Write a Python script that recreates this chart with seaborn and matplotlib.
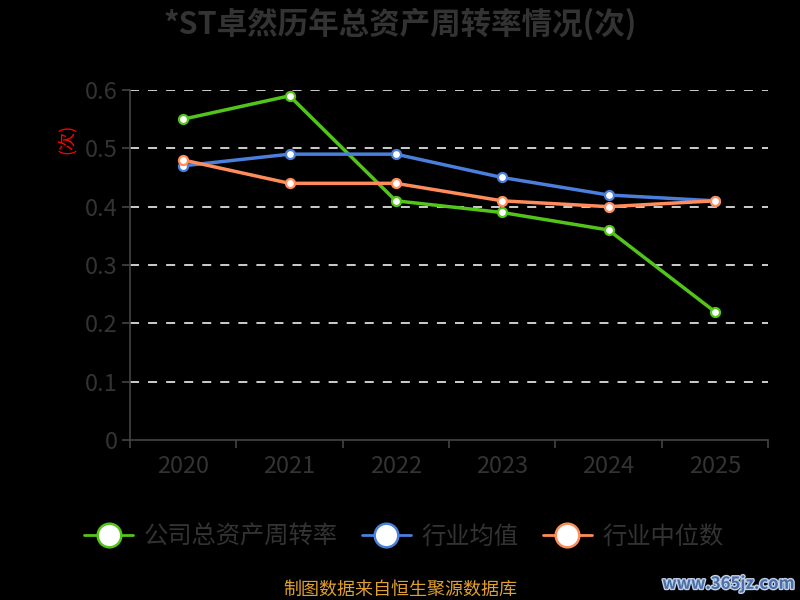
import matplotlib
matplotlib.use('Agg')
import matplotlib.pyplot as plt
import matplotlib.patheffects as pe
import seaborn as sns
import pandas as pd

# --- Data ---
years = ['2020', '2021', '2022', '2023', '2024', '2025']
company = [0.55, 0.59, 0.41, 0.39, 0.36, 0.22]
industry_avg = [0.47, 0.49, 0.49, 0.45, 0.42, 0.41]
industry_median = [0.48, 0.44, 0.44, 0.41, 0.40, 0.41]
series_names = ['公司总资产周转率', '行业均值', '行业中位数']
y_ticks = [0, 0.1, 0.2, 0.3, 0.4, 0.5, 0.6]

colors = ['#52c41a', '#4a7fdc', '#ff8c5a']

# --- Styling ---
sns.set_theme(style="dark")
plt.rcParams['font.family'] = ['Noto Sans CJK SC', 'DejaVu Sans']
plt.rcParams['axes.unicode_minus'] = False

df = pd.DataFrame({'year': years * 3,
                   'value': company + industry_avg + industry_median,
                   'series': [series_names[0]] * 6 + [series_names[1]] * 6 + [series_names[2]] * 6})
df['x'] = list(range(len(years))) * 3

fig = plt.figure(figsize=(8, 6), dpi=100, facecolor='black')
ax = fig.add_axes([0.1625, 0.2667, 0.7975, 0.5833])
ax.set_facecolor('black')

for y in y_ticks[1:]:
    ax.axhline(y, color='#dddddd', lw=1.3, ls=(0, (5, 5)), zorder=1)

sns.lineplot(data=df, x='x', y='value', hue='series', palette=colors, marker='o',
             markersize=6.5, markerfacecolor='white', markeredgewidth=1.6, lw=2.5,
             ax=ax, legend=False, zorder=3)
for line, c in zip(ax.get_lines()[-3:], colors):
    line.set_markeredgecolor(c)

ax.set_xlim(-0.5, len(years) - 0.5)
ax.set_ylim(0, 0.6)
ax.set_yticks(y_ticks)
ax.set_yticklabels(['0', '0.1', '0.2', '0.3', '0.4', '0.5', '0.6'])
ax.set_xticks(range(len(years)))
ax.set_xticklabels(years)
ax.set_xticks([i - 0.5 for i in range(len(years) + 1)], minor=True)
ax.tick_params(axis='x', which='major', length=0, pad=11, labelsize=17, labelcolor='#333333')
ax.tick_params(axis='x', which='minor', length=6, color='#444444', width=1.2, bottom=True)
ax.tick_params(axis='y', which='major', length=6, color='#444444', width=1.2, left=True,
               labelsize=17, labelcolor='#333333', pad=3)
ax.grid(False)
for side in ['top', 'right']:
    ax.spines[side].set_visible(False)
for side in ['left', 'bottom']:
    ax.spines[side].set_color('#444444')
    ax.spines[side].set_linewidth(1.2)
ax.set_xlabel('')
ax.set_ylabel('(次)', color='red', fontsize=13, rotation=90)
ax.yaxis.set_label_coords(-0.085, 0.86)

fig.text(0.5, 0.96, '*ST卓然历年总资产周转率情况(次)', ha='center', va='center',
         fontsize=22, fontweight='bold', color='#333333')

# legend
handles = [plt.Line2D([], [], color=c, lw=2, marker='o', markersize=17,
                      markerfacecolor='white', markeredgecolor=c, markeredgewidth=1.8)
           for c in colors]
fig.legend(handles, series_names, loc='center', bbox_to_anchor=(0.505, 0.105), ncol=3,
           frameon=False, fontsize=17.5, labelcolor='#333333', handlelength=2.0,
           columnspacing=1.0, handletextpad=0.45)

fig.text(0.5, 0.017, '制图数据来自恒生聚源数据库', ha='center', va='center',
         fontsize=13, color='#e0a030')
fig.text(0.993, 0.027, 'www.365jz.com', ha='right', va='center', fontsize=12,
         fontweight='bold', color='#4a6fa8',
         path_effects=[pe.withStroke(linewidth=2, foreground='#c0d0e8')])

fig.savefig('out.png', dpi=100, facecolor='black')
